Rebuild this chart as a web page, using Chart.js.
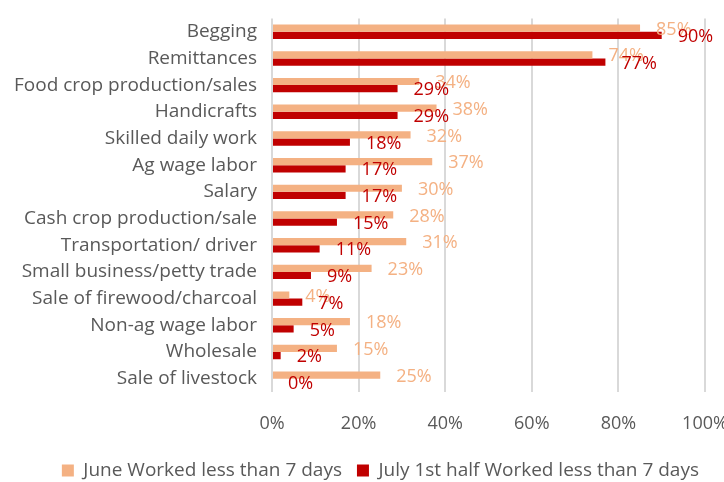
<!DOCTYPE html>
<html>
<head>
<meta charset="utf-8">
<script src="https://cdn.jsdelivr.net/npm/chart.js@4/dist/chart.umd.min.js"></script>
<style>
    html, body { margin: 0; padding: 0; background: #fff; }
    #wrap { width: 724px; height: 482px; }
</style>
</head>
<body>
<div id="wrap"><canvas id="chartTrabajo" width="724" height="482"></canvas></div>
<script>
const categorias = [
    "Begging", "Remittances", "Food crop production/sales", "Handicrafts",
    "Skilled daily work", "Ag wage labor", "Salary", "Cash crop production/sale",
    "Transportation/ driver", "Small business/petty trade", "Sale of firewood/charcoal",
    "Non-ag wage labor", "Wholesale", "Sale of livestock"
];
const valoresJunio = [85, 74, 34, 38, 32, 37, 30, 28, 31, 23, 4, 18, 15, 25];
const valoresJulio = [90, 77, 29, 29, 18, 17, 17, 15, 11, 9, 7, 5, 2, 0];
const ticksX = [0, 20, 40, 60, 80, 100];

const colorJunio = "#F4B183";
const colorJulio = "#C00000";
const fuente = "'Open Sans', Lato, sans-serif";

// etiquetas de valor al final de cada barra
const etiquetasBarras = {
    id: "etiquetasBarras",
    afterDatasetsDraw(chart) {
        const ctx = chart.ctx;
        ctx.save();
        ctx.font = "18px " + fuente;
        ctx.textBaseline = "middle";
        ctx.textAlign = "left";
        chart.data.datasets.forEach((ds, i) => {
            const meta = chart.getDatasetMeta(i);
            ctx.fillStyle = ds.backgroundColor;
            meta.data.forEach((bar, j) => {
                ctx.fillText(ds.data[j] + "%", bar.x + 16, bar.y + 1.5);
            });
        });
        ctx.restore();
    }
};

new Chart(document.getElementById("chartTrabajo"), {
    type: "bar",
    data: {
        labels: categorias,
        datasets: [
            {
                label: "June Worked less than 7 days",
                data: valoresJunio,
                backgroundColor: colorJunio,
                categoryPercentage: 0.54,
                barPercentage: 1.0
            },
            {
                label: "July 1st half Worked less than 7 days",
                data: valoresJulio,
                backgroundColor: colorJulio,
                categoryPercentage: 0.54,
                barPercentage: 1.0
            }
        ]
    },
    options: {
        indexAxis: "y",
        responsive: false,
        animation: false,
        layout: { padding: { top: 10, right: 10, left: 0, bottom: -8 } },
        plugins: {
            legend: {
                position: "bottom",
                align: "end",
                labels: {
                    boxWidth: 12,
                    boxHeight: 12,
                    padding: 15,
                    color: "#595959",
                    font: { family: fuente, size: 19 }
                }
            },
            tooltip: { enabled: false }
        },
        scales: {
            x: {
                min: 0,
                max: 100,
                afterBuildTicks: (scale) => { scale.ticks = ticksX.map(v => ({ value: v })); },
                afterFit: (scale) => {
                    scale.height = 54;
                    scale.paddingLeft = 0;
                    scale.paddingRight = 19;
                },
                ticks: {
                    callback: v => v + "%",
                    color: "#595959",
                    padding: 21,
                    font: { family: fuente, size: 18 }
                },
                grid: { color: "#D9D9D9", lineWidth: 2, drawTicks: false },
                border: { display: false }
            },
            y: {
                afterFit: (scale) => { scale.width = 272; },
                ticks: {
                    color: "#595959",
                    padding: 7,
                    font: { family: fuente, size: 19 }
                },
                grid: { display: false },
                border: { display: false }
            }
        }
    },
    plugins: [etiquetasBarras]
});
</script>
</body>
</html>
